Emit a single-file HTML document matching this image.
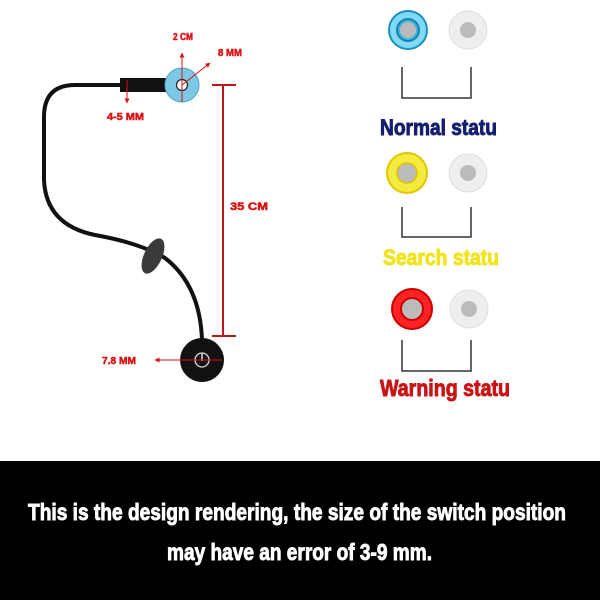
<!DOCTYPE html>
<html><head><meta charset="utf-8"><style>
html,body{margin:0;padding:0;background:#fff;width:600px;height:600px;overflow:hidden}
svg{display:block}
text{font-family:"Liberation Sans Narrow","Liberation Sans",sans-serif;font-weight:bold}
</style></head><body>
<svg width="600" height="600" viewBox="0 0 600 600" xmlns="http://www.w3.org/2000/svg">
<defs>
<marker id="ar" viewBox="0 0 10 10" refX="9" refY="5" markerWidth="5" markerHeight="5" orient="auto"><path d="M0,0 L10,5 L0,10z" fill="#d11"/></marker>
</defs>
<path d="M122,85 L75,85 Q45,85 44,115 L44,180 Q46,225 95,235 Q140,243 165,258 Q200,285 202,340" fill="none" stroke="#111" stroke-width="4"/>
<rect x="120" y="78" width="48" height="14" fill="#111"/>
<circle cx="182" cy="85" r="17" fill="#7cc8e6" stroke="#4aa3c8" stroke-width="1"/>
<circle cx="182" cy="85" r="5.5" fill="#fff" stroke="#222" stroke-width="1.2"/>
<ellipse cx="153" cy="256" rx="9" ry="19" transform="rotate(25 153 256)" fill="#3a3a3a"/>
<circle cx="202" cy="360" r="22" fill="#111"/>
<circle cx="202" cy="360" r="7" fill="none" stroke="#ddd" stroke-width="1.3"/>
<line x1="202" y1="353" x2="202" y2="361" stroke="#ddd" stroke-width="1.5"/>
<line x1="182" y1="102" x2="182" y2="53" stroke="#d11" stroke-width="1" marker-end="url(#ar)"/>
<line x1="182" y1="85" x2="210" y2="63" stroke="#d11" stroke-width="1" marker-end="url(#ar)"/>
<line x1="127" y1="80" x2="127" y2="103" stroke="#d11" stroke-width="1" marker-end="url(#ar)"/>
<line x1="223" y1="85" x2="223" y2="336" stroke="#c01818" stroke-width="2"/>
<line x1="212" y1="85" x2="236" y2="85" stroke="#c01818" stroke-width="2"/>
<line x1="212" y1="336" x2="236" y2="336" stroke="#c01818" stroke-width="2"/>
<line x1="222" y1="360" x2="155" y2="360" stroke="#d11" stroke-width="1" marker-end="url(#ar)"/>
<g fill="#d11" stroke="#d11" stroke-width="0.5" font-size="10">
<text x="173" y="40" textLength="20" lengthAdjust="spacingAndGlyphs">2 CM</text>
<text x="218" y="56" textLength="24" lengthAdjust="spacingAndGlyphs">8 MM</text>
<text x="107" y="120" textLength="37" lengthAdjust="spacingAndGlyphs">4-5 MM</text>
<text x="230" y="210" textLength="38" lengthAdjust="spacingAndGlyphs" font-size="11">35 CM</text>
<text x="102" y="364" textLength="34" lengthAdjust="spacingAndGlyphs">7.8 MM</text>
</g>
<circle cx="408" cy="30" r="19" fill="#7fdaf5" stroke="#1c8fc0" stroke-width="2"/>
<circle cx="408" cy="30" r="11" fill="#3ab4dc" stroke="#1a7fb0" stroke-width="2"/>
<circle cx="408" cy="30" r="8" fill="#bbb"/>
<circle cx="468" cy="30" r="19" fill="#eee" stroke="#ddd" stroke-width="1"/>
<circle cx="468" cy="30" r="8" fill="#bbb"/>
<path d="M402,67 V98 H471 V67" fill="none" stroke="#333" stroke-width="1.5"/>
<text x="380" y="135" font-size="22" fill="#141f6e" stroke="#141f6e" stroke-width="0.9" textLength="117" lengthAdjust="spacingAndGlyphs">Normal statu</text>
<circle cx="407" cy="173" r="20" fill="#f5ea40" stroke="#e0c800" stroke-width="2"/>
<circle cx="407" cy="173" r="10" fill="#bbb" stroke="#d9c400" stroke-width="1.5"/>
<circle cx="468" cy="173" r="19" fill="#eee" stroke="#ddd" stroke-width="1"/>
<circle cx="468" cy="173" r="8" fill="#bbb"/>
<path d="M402,207 V237 H471 V207" fill="none" stroke="#333" stroke-width="1.5"/>
<text x="383" y="265" font-size="22" fill="#f2e31a" stroke="#f2e31a" stroke-width="0.9" textLength="116" lengthAdjust="spacingAndGlyphs">Search statu</text>
<circle cx="412" cy="309" r="20" fill="#f22" stroke="#c00" stroke-width="2"/>
<circle cx="412" cy="309" r="11" fill="#bbb" stroke="#c00" stroke-width="2"/>
<circle cx="469" cy="309" r="19" fill="#eee" stroke="#ddd" stroke-width="1"/>
<circle cx="469" cy="309" r="8" fill="#bbb"/>
<path d="M402,340 V371 H471 V340" fill="none" stroke="#333" stroke-width="1.5"/>
<text x="380" y="396" font-size="23" fill="#c81414" stroke="#c81414" stroke-width="0.9" textLength="130" lengthAdjust="spacingAndGlyphs">Warning statu</text>
<rect x="0" y="461" width="600" height="139" fill="#000"/>
<g fill="#fff" stroke="#fff" stroke-width="0.9" font-size="23">
<text x="28" y="520" textLength="538" lengthAdjust="spacingAndGlyphs">This is the design rendering, the size of the switch position</text>
<text x="167" y="560" textLength="265" lengthAdjust="spacingAndGlyphs">may have an error of 3-9 mm.</text>
</g>
</svg>
</body></html>
